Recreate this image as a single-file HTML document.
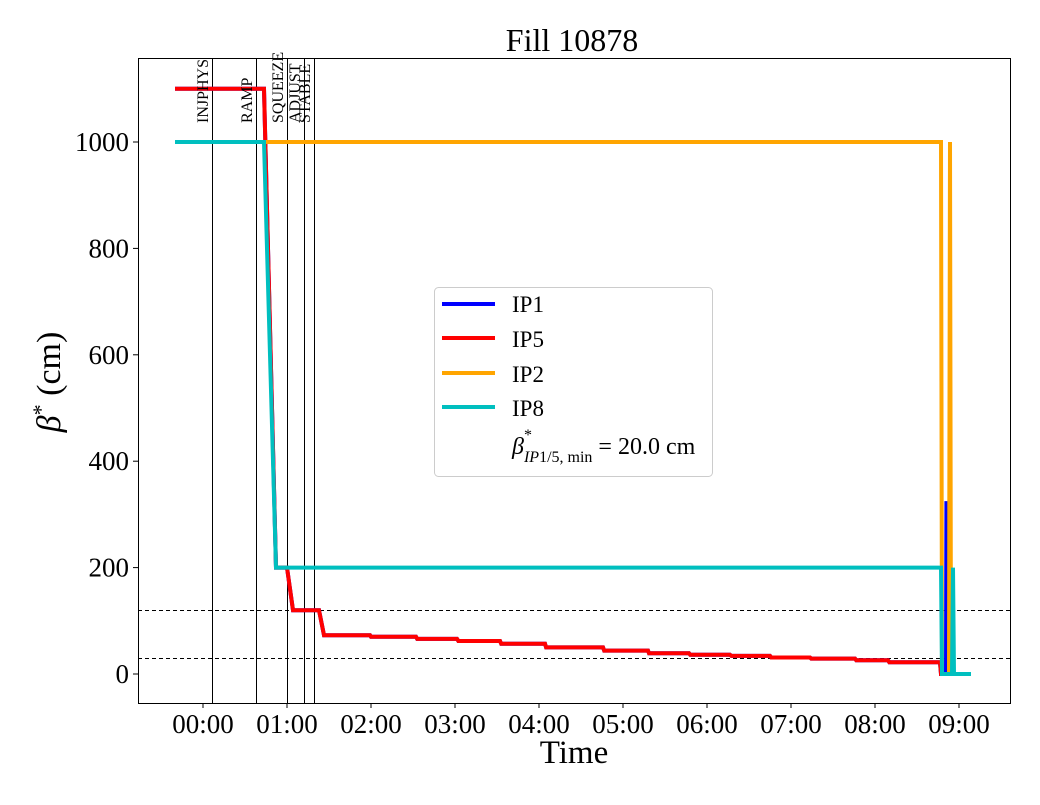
<!DOCTYPE html>
<html><head><meta charset="utf-8"><style>
body{margin:0;background:#fff}
svg text{font-family:"Liberation Serif",serif;fill:#000}
</style></head><body>
<svg id="chart" width="1040" height="800" xmlns="http://www.w3.org/2000/svg">
<rect width="1040" height="800" fill="#fff"/>
<g id="marks"></g>
<g id="axes"></g>
</svg>
<script>
const xTickLabels=["00:00","01:00","02:00","03:00","04:00","05:00","06:00","07:00","08:00","09:00"];
const yTicks=[0,200,400,600,800,1000];
const modeNames=["INJPHYS","RAMP","SQUEEZE","ADJUST","STABLE"];
const modeTimes=[0.107,0.631,1.0,1.202,1.321];
const refLevels=[120,30];
const ip5T=[-0.333,0.726,0.869,1.0,1.071,1.381,1.44,1.988,2.0,2.536,2.55,3.024,3.04,3.536,3.55,4.071,4.085,4.762,4.776,5.298,5.31,5.786,5.8,6.274,6.29,6.75,6.765,7.226,7.24,7.762,7.776,8.155,8.17,8.774,8.786,9.143];
const ip5V=[1100,1100,200,200,120,120,73,73,70,70,66,66,62,62,57,57,50,50,44,44,39,39,36,36,34,34,31,31,29,29,26,26,22,22,0,0];
const ip1T=[-0.333,0.726,0.869,1.0,1.071,1.381,1.44,1.988,2.0,2.536,2.55,3.024,3.04,3.536,3.55,4.071,4.085,4.762,4.776,5.298,5.31,5.786,5.8,6.274,6.29,6.75,6.765,7.226,7.24,7.762,7.776,8.155,8.17,8.774,8.786,8.845,8.85,8.855,9.143];
const ip1V=[1100,1100,200,200,120,120,73,73,70,70,66,66,62,62,57,57,50,50,44,44,39,39,36,36,34,34,31,31,29,29,26,26,22,22,0,0,325,0,0];
const ip2T=[-0.333,8.786,8.798,8.881,8.893,8.905,9.143];
const ip2V=[1000,1000,0,0,1000,0,0];
const ip8T=[-0.333,0.726,0.869,8.786,8.798,8.917,8.929,8.94,9.143];
const ip8V=[1000,1000,200,200,0,0,200,0,0];
const X0=138,X1=1010,Y0=58,Y1=703;
const xs=h=>203+84*h;
const ys=v=>674-0.532*v;
const NS="http://www.w3.org/2000/svg";
const marks=document.getElementById('marks'),axes=document.getElementById('axes');
function mk(tag,attrs,parent){const e=document.createElementNS(NS,tag);for(const k in attrs)e.setAttribute(k,attrs[k]);parent.appendChild(e);return e;}
const defs=mk('defs',{},marks);const cp=mk('clipPath',{id:'pc'},defs);mk('rect',{x:X0,y:Y0,width:X1-X0,height:Y1-Y0},cp);
const g=mk('g',{'clip-path':'url(#pc)'},marks);
refLevels.forEach((v,i)=>{const y=Math.round(ys(v))+0.5;const l=mk('line',{x1:X0,x2:X1,y1:y,y2:y,stroke:'#000','stroke-width':1,'stroke-dasharray':'4,3'},g);

});
modeTimes.forEach((t,i)=>{const xl=Math.round(xs(t))+0.5;const l=mk('line',{x1:xl,x2:xl,y1:Y0,y2:Y1,stroke:'#000','stroke-width':1},g);


const x=xs(t)-4,y=123;
const tx=mk('text',{x:x,y:y,transform:`rotate(-90 ${x} ${y})`,'font-size':16},marks);tx.textContent=modeNames[i];

});
function series(T,V,color,w,name){const p=T.map((t,i)=>xs(t).toFixed(1)+','+ys(V[i]).toFixed(1)).join(' ');
const pl=mk('polyline',{points:p,fill:'none',stroke:color,'stroke-width':w,'stroke-linejoin':'miter'},g);

}
series(ip1T,ip1V,'#0000ff',4,'series-ip1');
series(ip5T,ip5V,'#ff0000',4,'series-ip5');
series(ip2T,ip2V,'#ffa500',4,'series-ip2');
series(ip8T,ip8V,'#00bfbf',4,'series-ip8');
const fr=mk('rect',{x:X0+0.5,y:Y0+0.5,width:X1-X0,height:Y1-Y0,fill:'none',stroke:'#000','stroke-width':1},axes);


xTickLabels.forEach((s,i)=>{const x=xs(i);mk('line',{x1:x,x2:x,y1:Y1,y2:Y1+5,stroke:'#000'},axes);
const t=mk('text',{x:x,y:Y1+30,'font-size':27,'text-anchor':'middle'},axes);t.textContent=s;

});
yTicks.forEach(v=>{const y=ys(v);mk('line',{x1:X0-5,x2:X0,y1:y,y2:y,stroke:'#000'},axes);
const t=mk('text',{x:X0-9,y:y+9,'font-size':27,'text-anchor':'end'},axes);t.textContent=v;

});
</script>
<svg width="1040" height="800" style="position:absolute;left:0;top:0" xmlns="http://www.w3.org/2000/svg">
<text x="572" y="51" font-size="32" text-anchor="middle">Fill 10878</text>
<text x="574" y="763" font-size="33" text-anchor="middle">Time</text>
<text x="60" y="382" font-size="34" text-anchor="middle" transform="rotate(-90 60 382)"><tspan font-style="italic">β</tspan><tspan dy="-12" font-size="22">*</tspan><tspan dy="12"> (cm)</tspan></text>
<g>
<rect x="434.5" y="287.5" width="278" height="189" rx="4" fill="#fff" fill-opacity="0.8" stroke="#ccc"/>
<line x1="442" x2="495" y1="304" y2="304" stroke="#0000ff" stroke-width="4"/>
<text x="512" y="312" font-size="23">IP1</text>
<line x1="442" x2="495" y1="338" y2="338" stroke="#ff0000" stroke-width="4"/>
<text x="512" y="347" font-size="23">IP5</text>
<line x1="442" x2="495" y1="373" y2="373" stroke="#ffa500" stroke-width="4"/>
<text x="512" y="382" font-size="23">IP2</text>
<line x1="442" x2="495" y1="407" y2="407" stroke="#00bfbf" stroke-width="4"/>
<text x="512" y="416" font-size="23">IP8</text>
<text x="512" y="454" font-size="24"><tspan font-style="italic">β</tspan><tspan dy="-14" font-size="16">*</tspan><tspan dx="-8" dy="22" font-size="16"><tspan font-style="italic">IP</tspan>1/5, min</tspan><tspan dy="-8"> = 20.0 cm</tspan></text>
</g>
</svg>
</body></html>
